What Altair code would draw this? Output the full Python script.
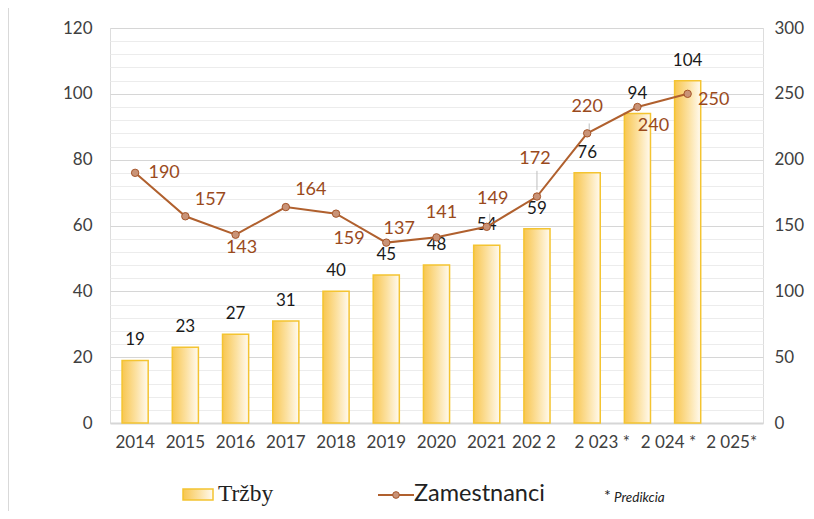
import altair as alt
import pandas as pd

# ---- data ----
years = ["2014", "2015", "2016", "2017", "2018", "2019", "2020", "2021",
         "202 2", "2 023 *", "2 024 *", "2 025*"]
trzby = [19, 23, 27, 31, 40, 45, 48, 54, 59, 76, 94, 104]
zamestnanci = [190, 157, 143, 164, 159, 137, 141, 149, 172, 220, 240, 250]

# label placement offsets (pixels) for the employee labels
zam_dx = [29, 25, 6, 25, 13, 13, 5, 6, -2, 0, 16, 26]
zam_dy = [0, -16, 13, -17, 25, -14, -24, -28, -38, -26, 19, 6]

# leader lines (years with a connector between label and point)
leader_years = ["2021", "202 2", "2 023 *"]
leader_from = [4.5, 5, 2.5]      # distance above the point, in axis units
leader_to = [10, 19.5, 7.5]
leader_shift = [3, 0, 2]

left_ticks = list(range(0, 121, 4))
right_ticks = list(range(0, 301, 50))

domain = years + [" "]
df = pd.DataFrame({"rok": years, "trzby": trzby, "zam": zamestnanci})

FONT = "Lato"
BROWN_LINE = "#B0602E"
BROWN_TEXT = "#9A4A1C"
AXIS_TEXT = "#404040"

bar_gradient = alt.Gradient(
    gradient="linear",
    stops=[alt.GradientStop(color="#F8C650", offset=0),
           alt.GradientStop(color="#FCE2A4", offset=0.55),
           alt.GradientStop(color="#FFFAF0", offset=1)],
    x1=0, x2=1, y1=0, y2=0,
)

x_enc = alt.X(
    "rok:N", sort=domain,
    scale=alt.Scale(domain=domain, paddingInner=0.48, paddingOuter=0.24),
    axis=alt.Axis(title=None, domain=False, ticks=False, labelAngle=0,
                  labelFont=FONT, labelFontSize=17, labelColor=AXIS_TEXT,
                  labelPadding=11, labelOverlap=False, labelLimit=0,
                  labelOffset={"expr": "datum.value == '2 023 *' ? 15 : datum.value == '2 024 *' ? 31 : datum.value == '2 025*' ? 44 : datum.value == '202 2' ? -3 : 0"}),
)

y_left = alt.Y(
    "trzby:Q",
    scale=alt.Scale(domain=[0, 120], nice=False),
    axis=alt.Axis(title=None, domain=False, ticks=False, values=left_ticks,
                  labelExpr="datum.value % 20 == 0 ? datum.label : ''",
                  labelFont=FONT, labelFontSize=17, labelColor=AXIS_TEXT,
                  labelPadding=18,
                  gridColor={"condition": {"test": "datum.value % 20 == 0", "value": "#D6D6D6"}, "value": "#ECECEC"},
                  gridWidth={"condition": {"test": "datum.value == 0", "value": 2}, "value": 1}),
)

right_scale = alt.Scale(domain=[0, 300], nice=False)
right_axis = alt.Axis(title=None, orient="right", domain=False, ticks=False, grid=False,
                      values=right_ticks, labelFont=FONT, labelFontSize=17,
                      labelColor=AXIS_TEXT, labelPadding=11)
y_right = alt.Y("zam:Q", scale=right_scale, axis=right_axis)

base = alt.Chart(df)

bars = base.mark_bar(fill=bar_gradient, stroke="#F4C431", strokeWidth=1.5).encode(
    x=x_enc, y=y_left)
bar_text = base.mark_text(dy=-20, baseline="middle", font=FONT, fontSize=17,
                          color="#1A1A1A").encode(x=x_enc, y=y_left, text="trzby:Q")

line = base.mark_line(color=BROWN_LINE, strokeWidth=2).encode(x=x_enc, y=y_right)
pts = base.mark_point(shape="circle", size=55, filled=True, fill="#C99377",
                      stroke="#A5552A", strokeWidth=1, opacity=1).encode(x=x_enc, y=y_right)

zam_labels = []
for i, yr in enumerate(years):
    zam_labels.append(
        base.transform_filter(alt.datum.rok == yr)
        .mark_text(dx=zam_dx[i], dy=zam_dy[i], baseline="middle", font=FONT,
                   fontSize=18, color=BROWN_TEXT)
        .encode(x=x_enc, y=y_right, text="zam:Q")
    )

leaders = []
for yr, a, b, s in zip(leader_years, leader_from, leader_to, leader_shift):
    leaders.append(
        base.transform_filter(alt.datum.rok == yr)
        .transform_calculate(l1=f"datum.zam + {a}", l2=f"datum.zam + {b}")
        .mark_rule(color="#BDBDBD", strokeWidth=1, xOffset=s)
        .encode(x=x_enc,
                y=alt.Y("l1:Q", scale=right_scale, axis=right_axis),
                y2="l2:Q")
    )

one = alt.Chart(pd.DataFrame({"k": [0]}))

frame = one.mark_rect(fill=None, stroke="#D9D9D9", strokeWidth=1).encode(
    x=alt.value(-101.5), x2=alt.value(720), y=alt.value(-20.5), y2=alt.value(520))

leg_swatch = one.mark_rect(fill=bar_gradient, stroke="#F4C431", strokeWidth=1.5).encode(
    x=alt.value(73), x2=alt.value(103), y=alt.value(461), y2=alt.value(472))
leg_trzby = one.mark_text(text="Tržby", align="left", baseline="middle",
                          font="Liberation Serif", fontSize=23.5, color="#222222").encode(
    x=alt.value(108), y=alt.value(466))
leg_line = one.mark_rule(color=BROWN_LINE, strokeWidth=2).encode(
    x=alt.value(268), x2=alt.value(304), y=alt.value(467))
leg_pt = one.mark_point(shape="circle", size=45, filled=True, fill="#C99377",
                        stroke="#A5552A", strokeWidth=1, opacity=1).encode(
    x=alt.value(286), y=alt.value(467))
leg_zam = one.mark_text(text="Zamestnanci", align="left", baseline="middle",
                        font=FONT, fontSize=23.5, color="#222222").encode(
    x=alt.value(304), y=alt.value(466))
leg_star = one.mark_text(text="*", align="left", baseline="middle",
                         font=FONT, fontSize=16, color="#222222").encode(
    x=alt.value(494), y=alt.value(468))
leg_pred = one.mark_text(text="Predikcia", align="left", baseline="middle",
                         font=FONT, fontSize=13.5, fontStyle="italic", color="#222222").encode(
    x=alt.value(504), y=alt.value(470))

left_group = alt.layer(bars, bar_text)
right_group = alt.layer(line, *leaders, pts, *zam_labels)

chart = alt.layer(
    frame, left_group, right_group,
    leg_swatch, leg_trzby, leg_line, leg_pt, leg_zam, leg_star, leg_pred,
).resolve_scale(y="independent").properties(
    width=653, height=395,
    autosize=alt.AutoSizeParams(type="none"),
    padding={"left": 102, "top": 20, "right": 43, "bottom": 88},
).configure_view(stroke=None).configure(background="white")

chart.save("out.html", embed_options={"renderer": "svg", "actions": False})
